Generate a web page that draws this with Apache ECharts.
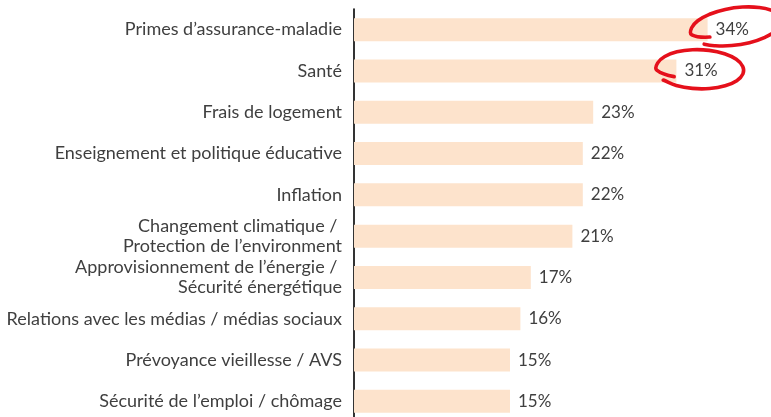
<!DOCTYPE html>
<html>
<head>
<meta charset="utf-8">
<script src="https://cdn.jsdelivr.net/npm/echarts@6/dist/echarts.min.js"></script>
<style>
  html, body { margin: 0; padding: 0; background: #ffffff; overflow: hidden; }
  #chart { width: 771px; height: 422px; }
</style>
</head>
<body>
<div id="chart"></div>
<script>
// Categories, top to bottom
const categories = [
  'Primes d’assurance-maladie',
  'Santé',
  'Frais de logement',
  'Enseignement et politique éducative',
  'Inflation',
  'Changement climatique / \nProtection de l’environment',
  'Approvisionnement de l’énergie / \nSécurité énergétique',
  'Relations avec les médias / médias sociaux',
  'Prévoyance vieillesse / AVS',
  'Sécurité de l’emploi / chômage'
];
// Share of respondents (%)
const values = [34, 31, 23, 22, 22, 21, 17, 16, 15, 15];
// Bars whose labels get circled in red
const circled = [0, 1];

const FONT = 'Lato, "Noto Sans", sans-serif';
const chart = echarts.init(document.getElementById('chart'));

chart.setOption({
  animation: false,
  backgroundColor: '#ffffff',
  grid: { left: 354, top: 9, width: 416, bottom: 0, containLabel: false },
  xAxis: {
    type: 'value', min: 0, max: 40, show: false
  },
  yAxis: {
    type: 'category',
    data: categories,
    inverse: true,
    axisLine: { show: true, lineStyle: { color: '#000000', width: 1.6 } },
    axisTick: { show: false },
    splitLine: { show: false },
    axisLabel: {
      margin: 12,
      color: '#3f3f3f',
      fontFamily: FONT,
      fontSize: 18,
      lineHeight: 20,
      align: 'right'
    }
  },
  series: [{
    type: 'bar',
    data: values,
    barWidth: 23,
    itemStyle: { color: '#fde3cc' },
    label: {
      show: true,
      position: 'right',
      distance: 8,
      formatter: p => p.value + '%',
      color: '#3f3f3f',
      fontFamily: FONT,
      fontSize: 17
    }
  }]
});

// Hand-drawn style loop around a value label
function loopPoints(cx, cy, rx, ry, rotDeg, startIn, endAng) {
  const r = rotDeg * Math.PI / 180;
  const cr = Math.cos(r), sr = Math.sin(r);
  const local = [[-startIn[0] * rx, startIn[1] * ry]];
  const angs = [];
  for (let a = 172; a <= endAng; a += 22) angs.push(a);
  angs.push(endAng);
  angs.forEach((a, i) => {
    const t = a * Math.PI / 180;
    const k = 1 + 0.06 * (i / angs.length);
    local.push([Math.cos(t) * rx * k, Math.sin(t) * ry * k]);
  });
  return local.map(([x, y]) => [cx + x * cr - y * sr, cy + x * sr + y * cr]);
}

const loopShapes = [
  { dx: 28, dy: -3.5, rx: 45, ry: 18, rot: -8, startIn: [0.6, 0.4], end: 495 },
  { dx: 23, dy: -2, rx: 43, ry: 19, rot: 2, startIn: [0.58, 0.45], end: 502 }
];

const graphics = circled.map((idx, i) => {
  const end = chart.convertToPixel({ seriesIndex: 0 }, [values[idx], idx]);
  const s = loopShapes[i];
  return {
    type: 'polyline',
    z: 100,
    shape: {
      points: loopPoints(end[0] + s.dx, end[1] + s.dy, s.rx, s.ry, s.rot, s.startIn, s.end),
      smooth: 0.45
    },
    style: { stroke: '#e5101b', lineWidth: 3.6, fill: null, lineCap: 'round', lineJoin: 'round' }
  };
});

chart.setOption({ graphic: graphics });
</script>
</body>
</html>
